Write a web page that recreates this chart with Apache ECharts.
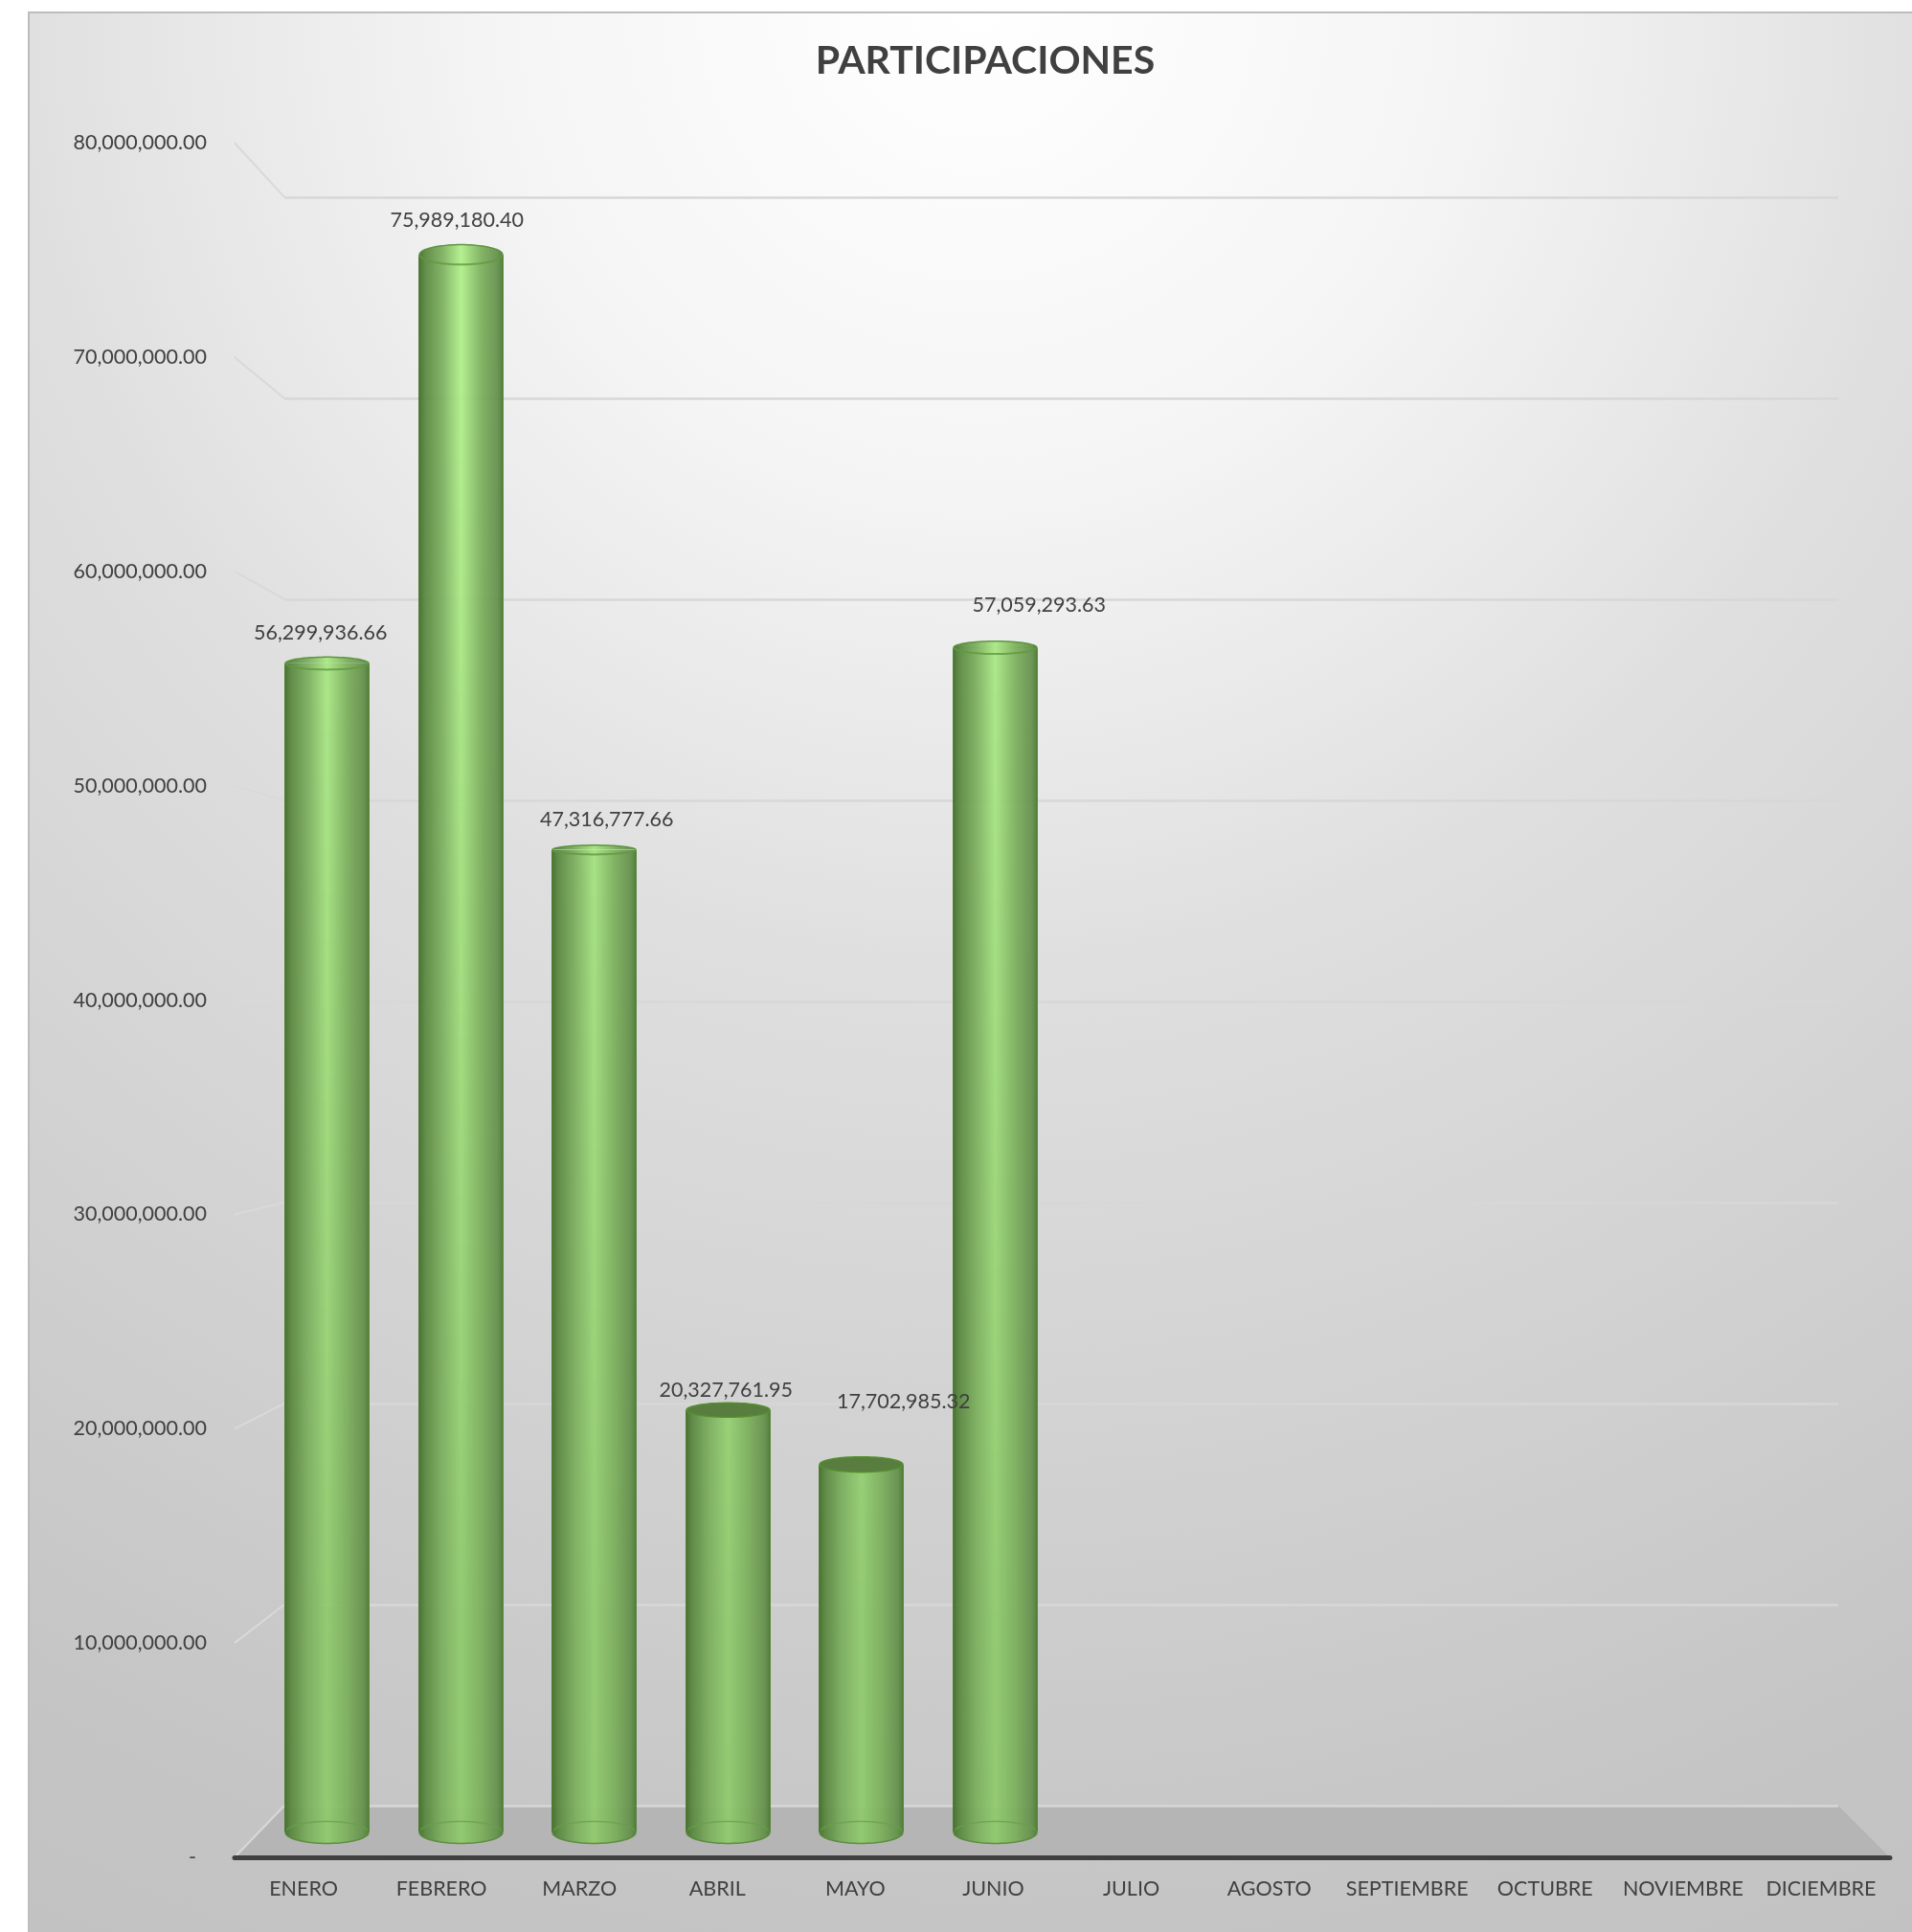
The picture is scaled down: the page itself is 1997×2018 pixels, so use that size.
<!DOCTYPE html>
<html>
<head>
<meta charset="utf-8">
<style>html,body{margin:0;padding:0;background:#fff}#c{width:1997px;height:2018px}</style>
<script src="https://cdn.jsdelivr.net/npm/echarts@6/dist/echarts.min.js"></script>
</head>
<body>
<div id="c"></div>
<script>
const categories = ['ENERO','FEBRERO','MARZO','ABRIL','MAYO','JUNIO','JULIO','AGOSTO','SEPTIEMBRE','OCTUBRE','NOVIEMBRE','DICIEMBRE'];
const participaciones = [56299936.66, 75989180.40, 47316777.66, 20327761.95, 17702985.32, 57059293.63, null, null, null, null, null, null];
const yTicks = [0, 10000000, 20000000, 30000000, 40000000, 50000000, 60000000, 70000000, 80000000];
const labelOffsets = [[-7,-32],[-4,-36],[13,-32],[-2,-21],[44,-66],[46,-44],[0,0],[0,0],[0,0],[0,0],[0,0],[0,0]];

const FONT = 'Lato';
const TEXT = '#404040';
const HORIZON = 1030;

const fmt = v => v.toLocaleString('en-US', {minimumFractionDigits: 2, maximumFractionDigits: 2});
const lerp = (a, b, t) => a + (b - a) * t;
function centerColor(y) {
  const t = Math.max(0, Math.min(1, (y - 400) / 1300));
  return `rgba(${Math.round(lerp(176,143,t))},${Math.round(lerp(240,203,t))},${Math.round(lerp(138,108,t))},0.93)`;
}
function bodyFill(y) {
  return new echarts.graphic.LinearGradient(0, 0, 1, 0, [
    {offset: 0, color: 'rgba(70,112,46,0.95)'},
    {offset: 0.07, color: 'rgba(88,135,62,0.93)'},
    {offset: 0.27, color: 'rgba(122,174,92,0.93)'},
    {offset: 0.5, color: centerColor(y)},
    {offset: 0.75, color: 'rgba(122,174,90,0.93)'},
    {offset: 0.94, color: 'rgba(98,143,74,0.93)'},
    {offset: 1, color: 'rgba(78,124,52,0.95)'}
  ]);
}
function ellipseHeight(y) { return 7 + Math.abs(y - HORIZON) * 0.018; }
function halfEllipse(cx, cy, rx, ry, lower) {
  const pts = [];
  for (let k = 0; k <= 40; k++) {
    const a = Math.PI * k / 40;
    pts.push([cx + rx * Math.cos(a), cy + (lower ? 1 : -1) * ry * Math.sin(a)]);
  }
  return pts;
}
function renderCylinder(params, api) {
  const v = api.value(1);
  if (v == null || isNaN(v)) return;
  const i = api.value(0);
  const [cx, top] = api.coord([i, v]);
  const base = api.coord([i, 0])[1];
  const rx = api.size([1, 0])[0] * 0.625 / 2;
  const ryB = ellipseHeight(base) / 2, ryT = ellipseHeight(top) / 2;
  const x0 = Math.round(cx - rx), w = Math.round(rx * 2), mid = x0 + w / 2;
  const children = [];
  const step = 24;
  for (let y = Math.round(top); y < base; y += step) {
    const h = Math.min(step, Math.round(base) - y);
    if (h <= 0) break;
    children.push({type: 'rect', shape: {x: x0, y, width: w, height: h}, style: {fill: bodyFill(y + h / 2)}});
  }
  const arc = (pts, stroke, lw) => ({type: 'polyline', shape: {points: pts}, style: {fill: 'none', stroke, lineWidth: lw}});
  // bottom cap
  const bLow = halfEllipse(mid, Math.round(base), w / 2, ryB, true);
  const bUp = halfEllipse(mid, Math.round(base), w / 2, ryB, false);
  children.push({type: 'polygon', shape: {points: bLow}, style: {fill: bodyFill(base)}});
  children.push(arc(bLow, 'rgba(86,138,56,0.9)', 1.5));
  children.push(arc(bUp, 'rgba(104,160,72,0.75)', 1.5));
  // sides
  children.push({type: 'line', shape: {x1: x0, y1: top, x2: x0, y2: base}, style: {stroke: 'rgba(72,118,46,0.9)', lineWidth: 2}});
  children.push({type: 'line', shape: {x1: x0 + w, y1: top, x2: x0 + w, y2: base}, style: {stroke: 'rgba(82,128,54,0.9)', lineWidth: 2}});
  // top cap
  const upper = halfEllipse(mid, top, w / 2, ryT, false);
  const lower = halfEllipse(mid, top, w / 2, ryT, true);
  if (top > HORIZON) {
    children.push({type: 'polygon', shape: {points: upper.concat(lower)}, style: {fill: '#587d3f'}});
    children.push(arc(upper, '#55902f', 1.5));
    children.push(arc(lower, '#55902f', 1.5));
  } else {
    children.push({type: 'polygon', shape: {points: upper}, style: {fill: bodyFill(top)}});
    children.push(arc(upper, 'rgba(90,145,58,0.95)', 1.5));
    children.push(arc(lower, 'rgba(95,154,62,0.8)', 2));
  }
  return {type: 'group', children};
}

const textStyle = {color: TEXT, fontFamily: FONT, fontSize: 21.5};
const FRONT = {left: 245, width: 1729, top: 149.3, height: 1790.7};
const MID = {left: 272, width: 1674, top: 179, height: 1734.5};
const BACK = {left: 297, width: 1623, top: 205.9, height: 1680.1};

const chart = echarts.init(document.getElementById('c'), null, {renderer: 'canvas'});
const hiddenX = {type: 'category', data: categories, axisLine: {show: false}, axisTick: {show: false}, axisLabel: {show: false}, splitLine: {show: false}};
const hiddenY = {type: 'value', min: 0, max: 80000000, interval: 10000000, axisLine: {show: false}, axisTick: {show: false}, axisLabel: {show: false}, splitLine: {show: false}};

chart.setOption({
  animation: false,
  backgroundColor: '#ffffff',
  title: {text: 'PARTICIPACIONES', left: 1024, top: 59, textAlign: 'center', textVerticalAlign: 'middle',
    textStyle: {color: TEXT, fontFamily: FONT, fontSize: 41, fontWeight: 'bold'}},
  grid: [
    Object.assign({containLabel: false}, FRONT),
    Object.assign({containLabel: false}, MID),
    Object.assign({containLabel: false}, BACK)
  ],
  xAxis: [
    {gridIndex: 0, type: 'category', data: categories,
      axisLine: {show: true, lineStyle: {color: '#404040', width: 5, cap: 'round'}},
      axisTick: {show: false},
      axisLabel: Object.assign({interval: 0, margin: 22}, textStyle),
      splitLine: {show: false}},
    Object.assign({gridIndex: 1}, hiddenX),
    Object.assign({gridIndex: 2}, hiddenX)
  ],
  yAxis: [
    Object.assign({}, hiddenY, {gridIndex: 0,
      axisLabel: Object.assign({show: true, margin: 29, padding: [5, 0, 0, 0], formatter: v => v === 0 ? '-  ' : fmt(v)}, textStyle)}),
    Object.assign({}, hiddenY, {gridIndex: 1}),
    Object.assign({}, hiddenY, {gridIndex: 2,
      splitLine: {show: true, lineStyle: {color: '#d7d7d7', width: 2.5}}})
  ],
  series: [
    {type: 'custom', xAxisIndex: 1, yAxisIndex: 1, z: 3, clip: false,
      encode: {x: 0, y: 1},
      renderItem: renderCylinder,
      data: participaciones.map((v, i) => [i, v])},
    {type: 'scatter', xAxisIndex: 1, yAxisIndex: 1, z: 5, symbolSize: 1,
      itemStyle: {color: 'transparent'},
      data: participaciones.map((v, i) => ({
        value: [i, v],
        label: {show: v != null, position: 'inside', offset: labelOffsets[i],
          formatter: p => fmt(p.value[1]),
          color: TEXT, fontFamily: FONT, fontSize: 21.5, textBorderWidth: 0, opacity: 1}
      }))}
  ]
});

// Background, floor and side-wall lines follow the axes.
const frontY = v => chart.convertToPixel({yAxisIndex: 0}, v);
const backY = v => chart.convertToPixel({yAxisIndex: 2}, v);
const fl = FRONT.left, fr = FRONT.left + FRONT.width, bl = BACK.left, br = BACK.left + BACK.width;
const graphics = [
  {type: 'rect', z: -3, shape: {x: 30, y: 13, width: 2100, height: 2100},
    style: {stroke: '#bdbdbd', lineWidth: 2,
      fill: new echarts.graphic.RadialGradient(1020, 0, 2245, [
        {offset: 0, color: '#ffffff'}, {offset: 0.22, color: '#f5f5f5'}, {offset: 0.36, color: '#e8e8e8'},
        {offset: 0.45, color: '#dfdfdf'}, {offset: 0.89, color: '#c5c5c5'}, {offset: 1, color: '#c2c2c2'}], true)}},
  {type: 'polygon', z: -1, shape: {points: [[bl, backY(0)], [br, backY(0)], [fr, frontY(0)], [fl, frontY(0)]]},
    style: {fill: '#b5b5b5'}}
];
yTicks.forEach(v => {
  graphics.push({type: 'line', z: 0, shape: {x1: fl, y1: frontY(v), x2: bl, y2: backY(v)},
    style: {stroke: '#d9d9d9', lineWidth: 2}});
});
chart.setOption({graphic: graphics});
</script>
</body>
</html>
